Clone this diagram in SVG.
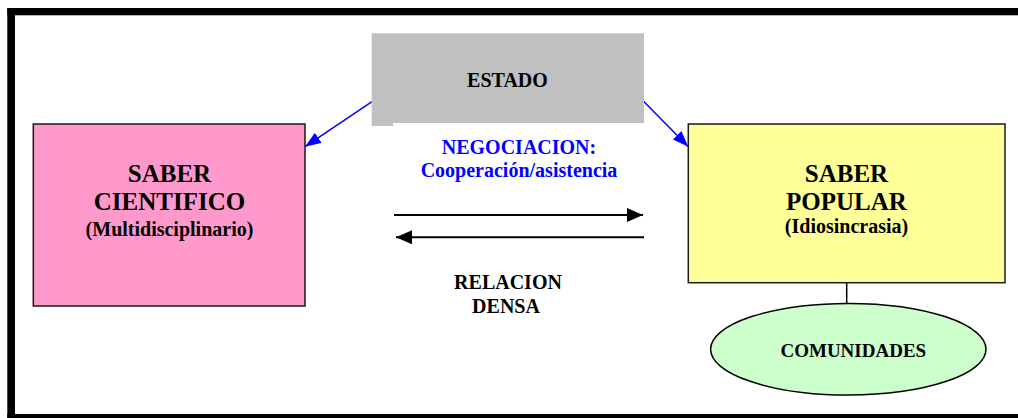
<svg xmlns="http://www.w3.org/2000/svg" width="1018" height="418" viewBox="0 0 1018 418">
<style>
text{font-family:"Liberation Serif","Times New Roman",serif;font-weight:bold;text-anchor:middle;fill:#000}
.t{font-size:25px}
.s{font-size:20px}
.b{fill:#0000FF}
.box{stroke:#1a1a1a;stroke-width:1.5}
</style>
<defs>
<marker id="ab" markerWidth="16" markerHeight="12" viewBox="0 0 16 12" refX="16" refY="6" orient="auto" markerUnits="userSpaceOnUse">
<path d="M0,0 L16,6 L0,12 Z" fill="#0000FF"/>
</marker>
<marker id="ak" markerWidth="16" markerHeight="14" viewBox="0 0 16 14" refX="16" refY="7" orient="auto" markerUnits="userSpaceOnUse">
<path d="M0,0 L16,7 L0,14 Z" fill="#000"/>
</marker>
</defs>
<rect width="1018" height="418" fill="#fff"/>
<g id="frame" fill="#000">
<rect x="7.3" y="8" width="1011" height="7.3"/>
<rect x="7.3" y="8" width="7.7" height="410"/>
<rect x="7.3" y="414" width="1011" height="4"/>
</g>
<g id="connectors">
<line x1="372" y1="101.7" x2="305" y2="146.7" stroke="#0000FF" stroke-width="1.5" marker-end="url(#ab)"/>
<line x1="643.3" y1="101" x2="688.3" y2="146.7" stroke="#0000FF" stroke-width="1.5" marker-end="url(#ab)"/>
<line x1="394" y1="215" x2="643" y2="215" stroke="#000" stroke-width="2" marker-end="url(#ak)"/>
<line x1="644" y1="237.3" x2="396" y2="237.3" stroke="#000" stroke-width="2" marker-end="url(#ak)"/>
<line x1="846.7" y1="283" x2="846.7" y2="303.5" stroke="#000" stroke-width="1.5"/>
</g>
<g id="estado">
<path d="M371.7,33.3 H644 V123 H393 V126 H371.7 Z" fill="#C0C0C0"/>
<text class="s" x="507.5" y="87.3">ESTADO</text>
</g>
<g id="saber-cientifico">
<rect class="box" x="33.3" y="124" width="271.7" height="182" fill="#FF99CC"/>
<text class="t" x="169.5" y="181.7">SABER</text>
<text class="t" x="169.5" y="210">CIENTIFICO</text>
<text class="s" x="169.5" y="236">(Multidisciplinario)</text>
</g>
<g id="saber-popular">
<rect class="box" x="688.3" y="124" width="316.7" height="158.7" fill="#FFFF99"/>
<text class="t" x="846.5" y="181.7">SABER</text>
<text class="t" x="846.5" y="210">POPULAR</text>
<text class="s" x="846.5" y="233">(Idiosincrasia)</text>
</g>
<g id="negociacion">
<text class="s b" x="519" y="154">NEGOCIACION:</text>
<text class="s b" x="519" y="176.7">Cooperación/asistencia</text>
</g>
<g id="relacion">
<text class="s" x="508" y="289.3">RELACION</text>
<text class="s" x="506" y="312.7">DENSA</text>
</g>
<g id="comunidades">
<ellipse cx="848.3" cy="349.2" rx="137.7" ry="45.8" fill="#CCFFCC" stroke="#000" stroke-width="1.5"/>
<text class="s" x="853.3" y="357.3" style="font-size:19px">COMUNIDADES</text>
</g>
</svg>
